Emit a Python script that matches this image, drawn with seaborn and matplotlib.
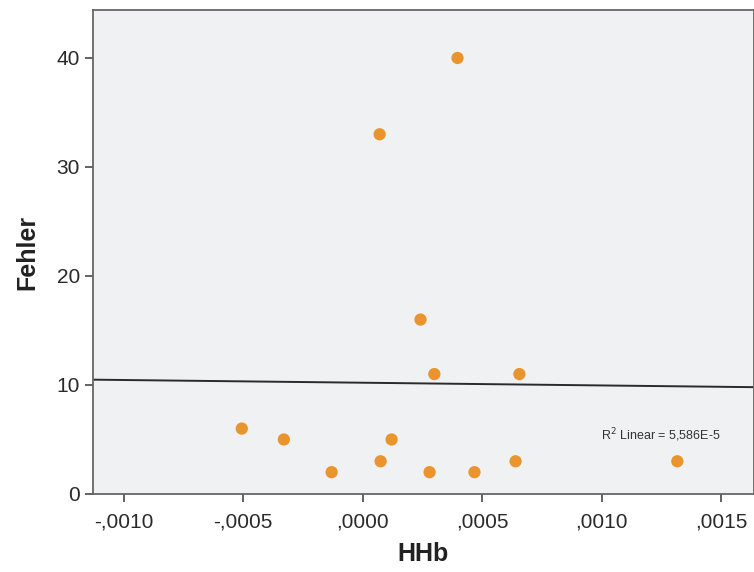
import matplotlib
matplotlib.use("Agg")
import matplotlib.pyplot as plt
import seaborn as sns
import numpy as np
import pandas as pd
from matplotlib.ticker import FuncFormatter, FixedLocator

hhb = [0.000397, 0.000071, 0.000242, 0.000300, 0.000656, -0.000506, -0.000330,
       0.000121, -0.000130, 0.000075, 0.000280, 0.000468, 0.000640, 0.001317]
fehler = [40, 33, 16, 11, 11, 6, 5, 5, 2, 3, 2, 2, 3, 3]
xticks = [-0.0010, -0.0005, 0.0000, 0.0005, 0.0010, 0.0015]
yticks = [0, 10, 20, 30, 40]

df = pd.DataFrame({"HHb": hhb, "Fehler": fehler})

sns.set_style("ticks")
plt.rcParams['font.family'] = ['Liberation Sans', 'DejaVu Sans']

fig = plt.figure(figsize=(7.54, 5.72), dpi=100)
ax = fig.add_axes([0.1233, 0.1364, 0.8767, 0.8461])
ax.set_facecolor("#f0f1f3")
ax.set_xlim(-0.001129, 0.001638)
ax.set_ylim(0, 44.4)

sns.regplot(data=df, x="HHb", y="Fehler", ax=ax, ci=None, truncate=False,
            scatter_kws=dict(s=78, color="#e9942c", edgecolor="none", alpha=1, zorder=3),
            line_kws=dict(color="#2a2a2a", lw=1.4, zorder=2))

ax.set_xlim(-0.001129, 0.001638)
ax.set_ylim(0, 44.4)
ax.xaxis.set_major_locator(FixedLocator(xticks))
ax.yaxis.set_major_locator(FixedLocator(yticks))

def fmt_x(v, pos):
    s = f"{v:.4f}"
    if s.startswith("-0"):
        s = "-" + s[2:]
    elif s.startswith("0"):
        s = s[1:]
    return s.replace(".", ",").replace("-,0000", ",0000")

ax.xaxis.set_major_formatter(FuncFormatter(fmt_x))
ax.tick_params(axis="both", labelsize=15, colors="#2a2a2a", length=6, width=1.3,
               direction="out", color="#555555")
ax.tick_params(axis="x", pad=7)
for sp in ax.spines.values():
    sp.set_color("#666666")
    sp.set_linewidth(1.3)

ax.set_xlabel("HHb", fontsize=18, fontweight="bold", color="#222222", labelpad=8)
ax.set_ylabel("Fehler", fontsize=18, fontweight="bold", color="#222222", labelpad=12)

ax.text(0.00125, 5.4, r"R$^2$ Linear = 5,586E-5", fontsize=9, color="#333333",
        ha="center", va="center")

fig.savefig("out.png", dpi=100)
